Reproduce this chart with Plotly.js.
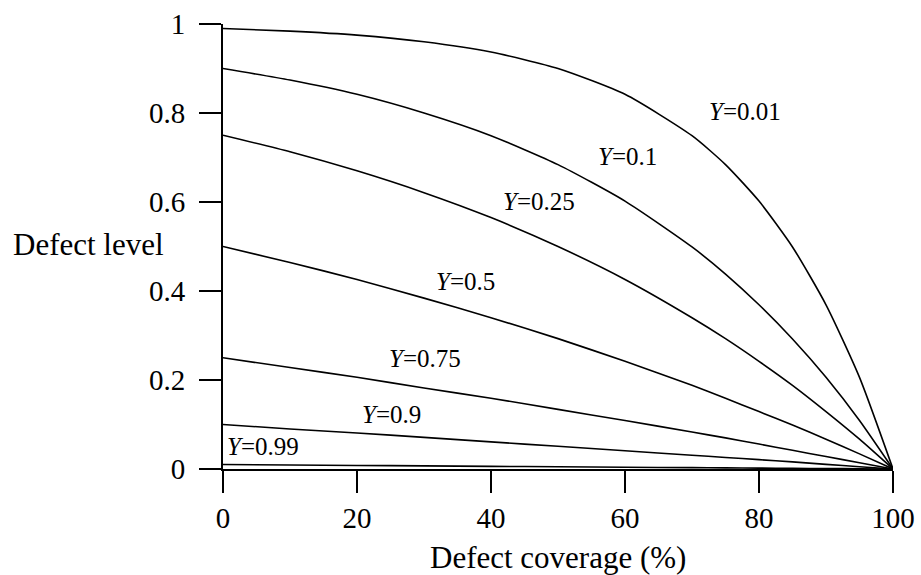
<!DOCTYPE html>
<html>
<head>
<meta charset="utf-8">
<script src="https://cdn.plot.ly/plotly-3.0.1.min.js"></script>
<style>html,body{margin:0;padding:0;background:#fff;}#chart{width:921px;height:575px;}</style>
</head>
<body>
<div id="chart"></div>
<script>
// Defect coverage (%)
const coverage = [0, 10, 20, 30, 40, 50, 60, 70, 75, 80, 85, 90, 95, 100];
// Defect level for each yield Y
const dl_Y001 = [0.990, 0.984, 0.975, 0.960, 0.937, 0.900, 0.842, 0.749, 0.684, 0.602, 0.499, 0.369, 0.206, 0];
const dl_Y010 = [0.900, 0.874, 0.842, 0.800, 0.749, 0.684, 0.602, 0.499, 0.438, 0.369, 0.292, 0.206, 0.109, 0];
const dl_Y025 = [0.750, 0.713, 0.670, 0.621, 0.565, 0.500, 0.426, 0.340, 0.293, 0.242, 0.188, 0.129, 0.067, 0];
const dl_Y050 = [0.500, 0.464, 0.426, 0.384, 0.340, 0.293, 0.242, 0.188, 0.159, 0.129, 0.099, 0.067, 0.034, 0];
const dl_Y075 = [0.250, 0.228, 0.206, 0.182, 0.159, 0.134, 0.109, 0.083, 0.070, 0.056, 0.042, 0.028, 0.014, 0];
const dl_Y090 = [0.100, 0.090, 0.081, 0.071, 0.061, 0.051, 0.041, 0.031, 0.026, 0.021, 0.016, 0.0105, 0.005, 0];
const dl_Y099 = [0.010, 0.009, 0.008, 0.007, 0.006, 0.005, 0.004, 0.003, 0.0025, 0.002, 0.0015, 0.001, 0.0005, 0];

const seriesNames = ["Y=0.01", "Y=0.1", "Y=0.25", "Y=0.5", "Y=0.75", "Y=0.9", "Y=0.99"];
const seriesData = [dl_Y001, dl_Y010, dl_Y025, dl_Y050, dl_Y075, dl_Y090, dl_Y099];
const labelText = ["0.01", "0.1", "0.25", "0.5", "0.75", "0.9", "0.99"];
const labelX = [77.9, 60.3, 47.1, 36.2, 30.2, 25.1, 6.0];
const labelY = [0.803, 0.702, 0.601, 0.422, 0.249, 0.122, 0.051];

const xTicks = [0, 20, 40, 60, 80, 100];
const yTicks = [0, 0.2, 0.4, 0.6, 0.8, 1];
const yTickText = ["0", "0.2", "0.4", "0.6", "0.8", "1"];

const serif = "Liberation Serif, Times New Roman, serif";

const traces = seriesData.map((d, i) => ({
  x: coverage, y: d, type: "scatter", mode: "lines", name: seriesNames[i],
  line: {color: "#000", width: 1.6, shape: "spline", smoothing: 0.6},
  hoverinfo: "x+y+name"
}));

const annotations = labelText.map((t, i) => ({
  x: labelX[i], y: labelY[i], xref: "x", yref: "y",
  text: "<i>Y</i>=" + t, showarrow: false,
  font: {family: serif, size: 25, color: "#000"},
  xanchor: "center", yanchor: "middle"
}));
annotations.push({
  x: -0.2005, y: 0.504, xref: "paper", yref: "paper",
  text: "Defect level", showarrow: false,
  font: {family: serif, size: 31, color: "#000"},
  xanchor: "center", yanchor: "middle"
});
annotations.push({
  x: 0.5, y: -0.199, xref: "paper", yref: "paper",
  text: "Defect coverage (%)", showarrow: false,
  font: {family: serif, size: 31, color: "#000"},
  xanchor: "center", yanchor: "middle"
});

const layout = {
  width: 921, height: 575,
  margin: {l: 222.5, r: 27.7, t: 24.3, b: 105.7},
  paper_bgcolor: "#fff", plot_bgcolor: "#fff",
  showlegend: false,
  xaxis: {
    range: [0, 100], tickvals: xTicks, ticktext: xTicks.map(String),
    showgrid: false, zeroline: false, showline: true, linecolor: "#000", linewidth: 2,
    ticks: "outside", ticklen: 22, tickwidth: 1.5, tickcolor: "#000",
    tickfont: {family: serif, size: 29, color: "#000"}
  },
  yaxis: {
    range: [0, 1], tickvals: yTicks, ticktext: yTickText,
    showgrid: false, zeroline: false, showline: true, linecolor: "#000", linewidth: 2,
    ticks: "outside", ticklen: 22, tickwidth: 1.5, tickcolor: "#000",
    ticklabelstandoff: 8,
    tickfont: {family: serif, size: 29, color: "#000"}
  },
  annotations: annotations
};

Plotly.newPlot("chart", traces, layout, {displayModeBar: false, staticPlot: true});
</script>
</body>
</html>
